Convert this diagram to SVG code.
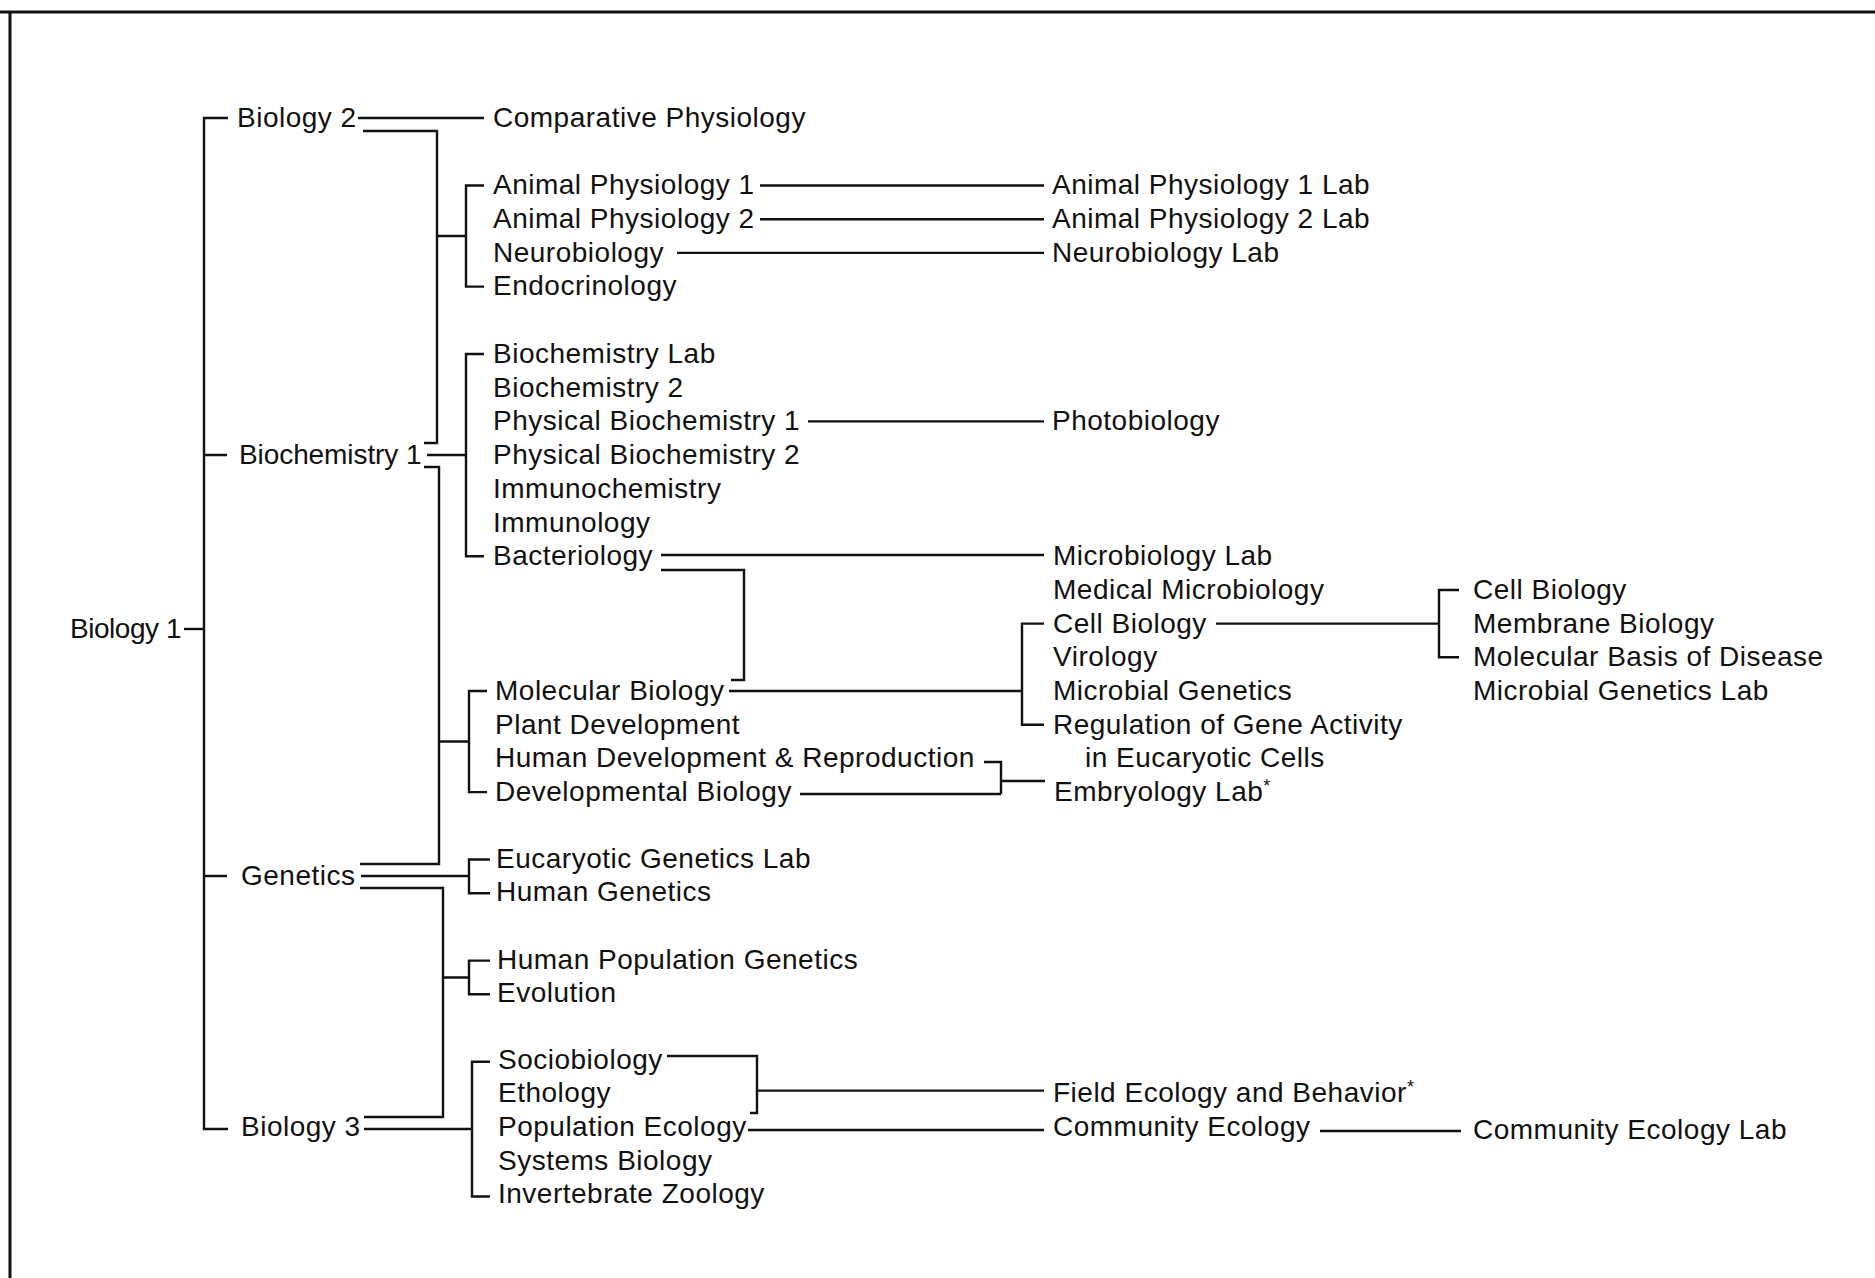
<svg xmlns="http://www.w3.org/2000/svg" width="1875" height="1278" viewBox="0 0 1875 1278">
<style>
text{font-family:"Liberation Sans",Arial,sans-serif;font-size:28px;letter-spacing:0.5px;fill:#111}
.c path,.b{fill:none;stroke:#111;stroke-width:2.4;stroke-linejoin:miter}
.ast{font-size:18px}
</style>
<rect width="1875" height="1278" fill="#fff"/>
<path class="b" d="M0 12 H1875 M10 12 V1278" style="stroke-width:3"/>
<g class="c" id="connectors">
<path d="M184 629 H204"/>
<path d="M228 118 H204 V1129 H228 M204 455 H227 M204 876 H227"/>
<path d="M358 118 H484"/>
<path d="M363 131 H437 V443 H424"/>
<path d="M437 236 H466 M484 185.5 H466 V286.6 H484"/>
<path d="M427 455 H466 M484 354 H466 V556.2 H484"/>
<path d="M424 467 H439 V864 H360"/>
<path d="M439 741.5 H469 M487 691 H469 V792.1 H487"/>
<path d="M361 876 H469 M490 859.5 H469 V893.2 H490"/>
<path d="M360 888 H443 V1117 H364"/>
<path d="M443 977.5 H469 M490 960.6 H469 V994.3 H490"/>
<path d="M364 1129 H472 M490 1061.7 H472 V1196.5 H490"/>
<path d="M760 185.5 H1044"/>
<path d="M760 219.2 H1044"/>
<path d="M677 252.9 H1044"/>
<path d="M808 421.4 H1044"/>
<path d="M661 555 H1044 M661 570 H744 V680 H731"/>
<path d="M729 691 H1022 M1044 623.6 H1022 V724.7 H1044"/>
<path d="M1216 623.6 H1439 M1459 590 H1439 V657.3 H1459"/>
<path d="M984 762 H1001 V794 M800 794 H1001 M1001 781 H1045"/>
<path d="M667 1056 H757 V1113 H750 M757 1090.6 H1044"/>
<path d="M748 1130 H1044"/>
<path d="M1320 1131 H1461"/>
</g>
<g id="n-biology1"><text x="70" y="638" textLength="112" lengthAdjust="spacing">Biology 1</text></g>
<g id="n-biology2"><text x="237" y="127">Biology 2</text></g>
<g id="n-biochem1"><text x="239" y="464" textLength="183" lengthAdjust="spacing">Biochemistry 1</text></g>
<g id="n-genetics"><text x="241" y="885">Genetics</text></g>
<g id="n-biology3"><text x="241" y="1136">Biology 3</text></g>
<g id="n-compphys"><text x="493" y="127">Comparative Physiology</text></g>
<g id="n-ap1"><text x="493" y="194">Animal Physiology 1</text></g>
<g id="n-ap2"><text x="493" y="227.5">Animal Physiology 2</text></g>
<g id="n-neuro"><text x="493" y="261.5">Neurobiology</text></g>
<g id="n-endo"><text x="493" y="295">Endocrinology</text></g>
<g id="n-biochemlab"><text x="493" y="363">Biochemistry Lab</text></g>
<g id="n-biochem2"><text x="493" y="396.7">Biochemistry 2</text></g>
<g id="n-pb1"><text x="493" y="430.4">Physical Biochemistry 1</text></g>
<g id="n-pb2"><text x="493" y="464.1">Physical Biochemistry 2</text></g>
<g id="n-immunochem"><text x="493" y="497.8">Immunochemistry</text></g>
<g id="n-immunology"><text x="493" y="531.5">Immunology</text></g>
<g id="n-bacteriology"><text x="493" y="565.2">Bacteriology</text></g>
<g id="n-molbio"><text x="495" y="700">Molecular Biology</text></g>
<g id="n-plantdev"><text x="495" y="733.7">Plant Development</text></g>
<g id="n-humandev"><text x="495" y="767.4">Human Development &amp; Reproduction</text></g>
<g id="n-devbio"><text x="495" y="801.1">Developmental Biology</text></g>
<g id="n-eucgenlab"><text x="496" y="867.5">Eucaryotic Genetics Lab</text></g>
<g id="n-humangen"><text x="496" y="901.2">Human Genetics</text></g>
<g id="n-humpopgen"><text x="497" y="968.6">Human Population Genetics</text></g>
<g id="n-evolution"><text x="497" y="1002.3">Evolution</text></g>
<g id="n-sociobio"><text x="498" y="1068.7">Sociobiology</text></g>
<g id="n-ethology"><text x="498" y="1102.4">Ethology</text></g>
<g id="n-popeco"><text x="498" y="1136.1">Population Ecology</text></g>
<g id="n-sysbio"><text x="498" y="1169.8">Systems Biology</text></g>
<g id="n-invzoo"><text x="498" y="1203.3">Invertebrate Zoology</text></g>
<g id="n-ap1lab"><text x="1052" y="194">Animal Physiology 1 Lab</text></g>
<g id="n-ap2lab"><text x="1052" y="227.5">Animal Physiology 2 Lab</text></g>
<g id="n-neurolab"><text x="1052" y="261.5">Neurobiology Lab</text></g>
<g id="n-photobio"><text x="1052" y="430.4">Photobiology</text></g>
<g id="n-microlab"><text x="1053" y="565.2">Microbiology Lab</text></g>
<g id="n-medmicro"><text x="1053" y="598.9">Medical Microbiology</text></g>
<g id="n-cellbio"><text x="1053" y="632.6">Cell Biology</text></g>
<g id="n-virology"><text x="1053" y="666.3">Virology</text></g>
<g id="n-microgen"><text x="1053" y="700">Microbial Genetics</text></g>
<g id="n-regulation"><text x="1053" y="733.7">Regulation of Gene Activity</text><text x="1085" y="767.4">in Eucaryotic Cells</text></g>
<g id="n-embryolab"><text x="1054" y="801.1">Embryology Lab<tspan class="ast" dy="-9">*</tspan></text></g>
<g id="n-fieldeco"><text x="1053" y="1102.4">Field Ecology and Behavior<tspan class="ast" dy="-9">*</tspan></text></g>
<g id="n-commeco"><text x="1053" y="1136.1">Community Ecology</text></g>
<g id="n-cellbio2"><text x="1473" y="598.9">Cell Biology</text></g>
<g id="n-membrane"><text x="1473" y="632.6">Membrane Biology</text></g>
<g id="n-molbasis"><text x="1473" y="666.3">Molecular Basis of Disease</text></g>
<g id="n-microgenlab"><text x="1473" y="700">Microbial Genetics Lab</text></g>
<g id="n-commecolab"><text x="1473" y="1139">Community Ecology Lab</text></g>
</svg>
